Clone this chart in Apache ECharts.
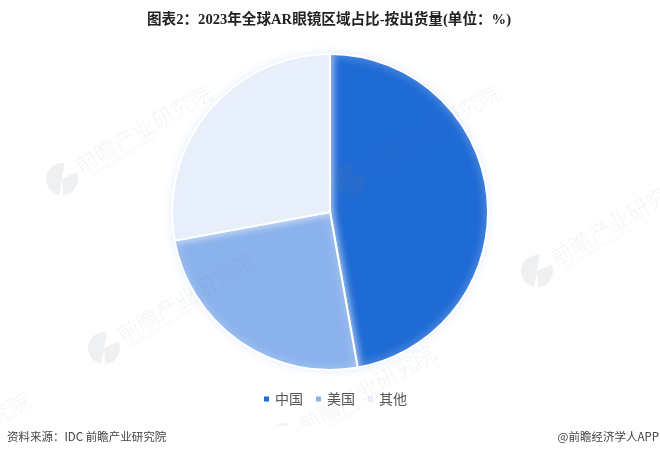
<!DOCTYPE html>
<html lang="en">
<head>
    <meta charset="UTF-8">
    <title>图表2</title>
    <style>
        html, body {margin: 0; padding: 0; background: #fff;}
        #chart {width: 660px; height: 456px;}
    </style>
</head>
<body>
<div id="chart"></div>
<script src="https://cdn.jsdelivr.net/npm/echarts@6/dist/echarts.min.js"></script>
<script>
    var categories = ['中国', '美国', '其他'];
    var shares = [47.2, 24.9, 27.9];
    var sliceColors = ['#1f6bd5', '#8ab2ec', '#e8f0fb'];
    var titleText = '图表2：2023年全球AR眼镜区域占比-按出货量(单位：%)';
    var sourceText = '资料来源：IDC 前瞻产业研究院';
    var brandText = '@前瞻经济学人APP';
    var markText = '前瞻产业研究院';
    var markSubText = 'QIANZHAN INDUSTRY RESEARCH';
    var markSpots = [[62, 179], [350, 179], [104, 348], [537, 271], [285, 439], [-120, 487]];

    var cjk = '"Noto Sans CJK SC", "Noto Sans", sans-serif';
    var markColor = 'rgba(110,120,140,0.08)';
    var logoColor = 'rgba(110,120,140,0.11)';

    /*水印*/
    function watermark(spot) {
        return [
            {
                type: 'sector',
                x: spot[0],
                y: spot[1],
                silent: true,
                z: 50,
                shape: {cx: 0, cy: 0, r0: 0, r: 16, startAngle: 100 * Math.PI / 180, endAngle: 280 * Math.PI / 180},
                style: {fill: logoColor}
            },
            {
                type: 'sector',
                x: spot[0],
                y: spot[1],
                silent: true,
                z: 50,
                shape: {cx: 0, cy: 0, r0: 0, r: 16, startAngle: -25 * Math.PI / 180, endAngle: 85 * Math.PI / 180},
                style: {fill: logoColor}
            },
            {
                type: 'text',
                x: spot[0] + 15,
                y: spot[1] - 12,
                rotation: Math.PI / 6,
                silent: true,
                z: 50,
                style: {
                    text: markText,
                    font: '300 22px ' + cjk,
                    fill: markColor,
                    verticalAlign: 'middle'
                }
            },
            {
                type: 'text',
                x: spot[0] + 27,
                y: spot[1] - 3,
                rotation: Math.PI / 6,
                silent: true,
                z: 50,
                style: {
                    text: markSubText,
                    font: '5px ' + cjk,
                    fill: markColor,
                    verticalAlign: 'middle'
                }
            }
        ];
    }

    var graphics = [];
    for (var i = 0; i < markSpots.length; i++) {
        graphics = graphics.concat(watermark(markSpots[i]));
    }
    // 底部白条盖住水印
    graphics.push({
        type: 'rect',
        silent: true,
        z: 60,
        shape: {x: 0, y: 426, width: 660, height: 30},
        style: {fill: '#fff'}
    });
    graphics.push({
        type: 'text',
        left: 7,
        top: 431,
        z: 61,
        style: {text: sourceText, font: '11.5px ' + cjk, fill: '#444'}
    });
    graphics.push({
        type: 'text',
        right: 1,
        top: 431,
        z: 61,
        style: {text: brandText, font: '11.5px ' + cjk, fill: '#444'}
    });

    var myChart = echarts.init(document.getElementById('chart'));
    myChart.setOption({
        backgroundColor: '#fff',
        animation: false,
        title: {
            text: titleText,
            left: 142,
            top: 8,
            textStyle: {
                fontFamily: '"Liberation Serif", "Noto Sans CJK SC", serif',
                fontSize: 14.6,
                fontWeight: 'bold',
                color: '#222'
            }
        },
        legend: {
            data: categories,
            left: 257,
            top: 387,
            icon: 'rect',
            itemWidth: 7,
            itemHeight: 7,
            itemGap: 11,
            textStyle: {fontFamily: cjk, fontSize: 14, color: '#555'}
        },
        graphic: graphics,
        series: [
            {
                type: 'pie',
                center: [330, 212],
                radius: [0, 158],
                startAngle: 90,
                clockwise: true,
                label: {show: false},
                labelLine: {show: false},
                itemStyle: {
                    borderColor: '#fff',
                    borderWidth: 2,
                    shadowBlur: 8,
                    shadowColor: 'rgba(226,236,252,0.85)'
                },
                data: categories.map(function (name, idx) {
                    return {name: name, value: shares[idx], itemStyle: {color: sliceColors[idx]}};
                })
            }
        ]
    });
</script>
</body>
</html>
